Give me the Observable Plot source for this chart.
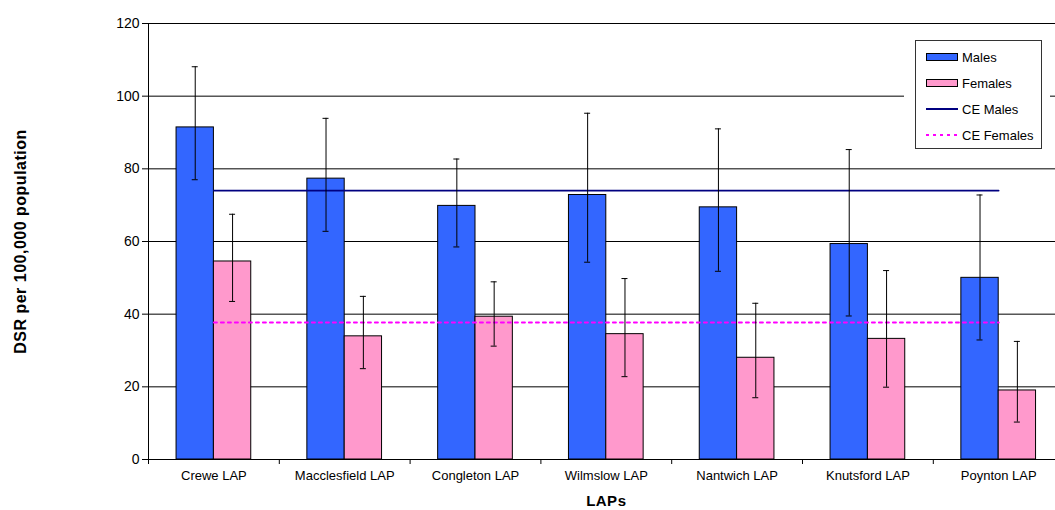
<!DOCTYPE html>
<html>
<head>
<meta charset="utf-8">
<script src="https://cdn.jsdelivr.net/npm/d3@7"></script>
<script src="https://cdn.jsdelivr.net/npm/@observablehq/plot@0.6"></script>
<style>
  html, body { margin: 0; padding: 0; background: #fff; }
  #wrap { position: relative; width: 1055px; height: 510px; overflow: hidden; font-family: "Liberation Sans", Arial, sans-serif; }
  #legendOuter { position: absolute; left: 904px; top: 30px; width: 146px; height: 131px; background: #fff; }
  #legend { position: absolute; left: 11px; top: 10px; width: 127px; height: 109px; border: 1px solid #333; background: #fff; box-sizing: border-box; }
  .li { position: absolute; left: 10px; height: 14px; display: flex; align-items: center; font-size: 13px; color: #000; white-space: nowrap; }
  .sw { width: 32px; height: 8px; box-sizing: border-box; border: 1px solid #000; margin-right: 4px; }
  .li svg { margin-right: 4px; display: block; }
</style>
</head>
<body>
<div id="wrap"></div>
<script>
// ---- data ----
const categories = ["Crewe LAP", "Macclesfield LAP", "Congleton LAP", "Wilmslow LAP", "Nantwich LAP", "Knutsford LAP", "Poynton LAP"];
const males        = [91.4, 77.3, 69.8, 72.8, 69.4, 59.3, 50.0];
const malesLower   = [77.0, 62.8, 58.5, 54.3, 51.8, 39.5, 32.9];
const malesUpper   = [108.1, 93.9, 82.7, 95.3, 91.0, 85.3, 72.8];
const females      = [54.5, 33.9, 39.3, 34.5, 28.0, 33.2, 19.0];
const femalesLower = [43.5, 25.0, 31.2, 22.8, 17.0, 19.9, 10.3];
const femalesUpper = [67.5, 44.9, 48.9, 49.8, 43.0, 52.0, 32.5];
const ceMales = 74.0;
const ceFemales = 37.7;
const yTicks = [0, 20, 40, 60, 80, 100, 120];

// ---- layout ----
const W = 1055, H = 510, ML = 148, MT = 23, MB = 51, MR = -8.6;
const step = (W - ML - MR) / categories.length;
const pad = 0.2145;                      // outer gap fraction of each category band
const half = step / 2;
const barOff = (0.5 - pad) / 2 * step;   // bar centre offset from band centre
const frameH = H - MT - MB;
const capInset = (step - 6) / 2;

const rows = categories.map((c, i) => ({
  cat: c, m: males[i], mLo: malesLower[i], mHi: malesUpper[i],
  f: females[i], fLo: femalesLower[i], fHi: femalesUpper[i]
}));

const chart = Plot.plot({
  width: W, height: H,
  marginLeft: ML, marginTop: MT, marginBottom: MB, marginRight: MR,
  style: { fontFamily: "'Liberation Sans', Arial, sans-serif", fontSize: "13px", color: "#000", background: "#fff" },
  x: { type: "band", domain: categories, padding: 0, round: false },
  y: { domain: [0, 120] },
  marks: [
    // gridlines
    Plot.ruleY(yTicks.slice(1), { stroke: "#000", strokeWidth: 1 }),
    // bars
    Plot.barY(rows, { x: "cat", y: "m", fill: "#3366FF", stroke: "#000", strokeWidth: 1, insetLeft: pad * step, insetRight: half }),
    Plot.barY(rows, { x: "cat", y: "f", fill: "#FF99CC", stroke: "#000", strokeWidth: 1, insetLeft: half, insetRight: pad * step }),
    // CE lines
    Plot.lineY(categories, { x: d => d, y: () => ceMales, stroke: "#000080", strokeWidth: 1.6 }),
    Plot.lineY(categories, { x: d => d, y: () => ceFemales, stroke: "#FF00FF", strokeWidth: 2, strokeDasharray: "3,4" }),
    // error bars
    Plot.ruleX(rows, { x: "cat", y1: "mLo", y2: "mHi", dx: -barOff, stroke: "#000", strokeWidth: 1 }),
    Plot.ruleX(rows, { x: "cat", y1: "fLo", y2: "fHi", dx: barOff, stroke: "#000", strokeWidth: 1 }),
    Plot.tickY(rows, { x: "cat", y: "mLo", dx: -barOff, insetLeft: capInset, insetRight: capInset, stroke: "#000" }),
    Plot.tickY(rows, { x: "cat", y: "mHi", dx: -barOff, insetLeft: capInset, insetRight: capInset, stroke: "#000" }),
    Plot.tickY(rows, { x: "cat", y: "fLo", dx: barOff, insetLeft: capInset, insetRight: capInset, stroke: "#000" }),
    Plot.tickY(rows, { x: "cat", y: "fHi", dx: barOff, insetLeft: capInset, insetRight: capInset, stroke: "#000" }),
    // baseline
    Plot.ruleY([0], { stroke: "#000", strokeWidth: 1 }),
    // category boundary ticks and y axis line
    Plot.ruleX(categories, { x: d => d, dx: -half, insetTop: frameH, insetBottom: -5, stroke: "#000" }),
    Plot.ruleX([categories[0]], { x: d => d, dx: -half, insetBottom: -5, stroke: "#000" }),
    // axes
    Plot.axisY({ ticks: yTicks, tickSize: 6, tickPadding: 3, fontSize: "14px", label: null, stroke: "#000" }),
    Plot.axisX({ tickSize: 0, tickPadding: 11, label: null, fontSize: "13px" }),
    // axis titles
    Plot.text(["LAPs"], { frameAnchor: "bottom", dy: 42, fontWeight: "bold", fontSize: 15, fill: "#000", textAnchor: "middle", lineAnchor: "middle" }),
    Plot.text(["DSR per 100,000 population"], { frameAnchor: "left", dx: -128, textAnchor: "middle", lineAnchor: "middle", rotate: -90, fontWeight: "bold", fontSize: 16, fill: "#000" })
  ]
});

// slight letter spacing on bold axis titles (Excel renders these wider)
chart.querySelectorAll("text").forEach(t => {
  if (t.textContent === "LAPs" || t.textContent === "DSR per 100,000 population") t.style.letterSpacing = "0.5px";
});

const wrap = document.getElementById("wrap");
wrap.appendChild(chart);

// legend
const legendItems = [
  { label: "Males", kind: "sw", color: "#3366FF" },
  { label: "Females", kind: "sw", color: "#FF99CC" },
  { label: "CE Males", kind: "ln", color: "#000080", dash: null },
  { label: "CE Females", kind: "ln", color: "#FF00FF", dash: "3,4" }
];
const outer = document.createElement("div");
outer.id = "legendOuter";
const box = document.createElement("div");
box.id = "legend";
legendItems.forEach((it, i) => {
  const row = document.createElement("div");
  row.className = "li";
  row.style.top = (9 + i * 26) + "px";
  if (it.kind === "sw") {
    const s = document.createElement("div");
    s.className = "sw";
    s.style.background = it.color;
    row.appendChild(s);
  } else {
    const ns = "http://www.w3.org/2000/svg";
    const svg = document.createElementNS(ns, "svg");
    svg.setAttribute("width", 32); svg.setAttribute("height", 4);
    const l = document.createElementNS(ns, "line");
    l.setAttribute("x1", 0); l.setAttribute("x2", 32);
    l.setAttribute("y1", 2); l.setAttribute("y2", 2);
    l.setAttribute("stroke", it.color);
    l.setAttribute("stroke-width", 2);
    if (it.dash) l.setAttribute("stroke-dasharray", it.dash);
    svg.appendChild(l);
    row.appendChild(svg);
  }
  const t = document.createElement("span");
  t.textContent = it.label;
  row.appendChild(t);
  box.appendChild(row);
});
outer.appendChild(box);
wrap.appendChild(outer);
</script>
</body>
</html>
